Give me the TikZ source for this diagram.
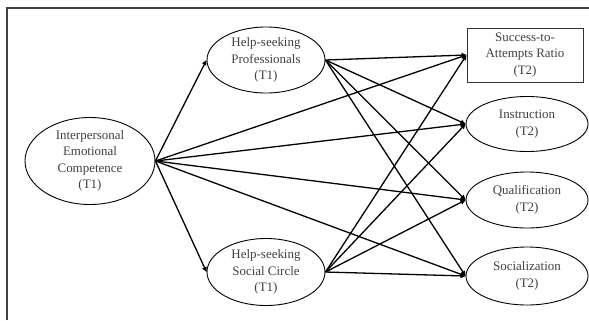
\documentclass[tikz,border=0pt]{standalone}
\usepackage{fontspec}
\setmainfont{Liberation Serif}
\usetikzlibrary{shapes.geometric,arrows.meta}
\begin{document}
\begin{tikzpicture}[x=1bp,y=-1bp,
  lat/.style={ellipse,draw=black,line width=0.9bp,inner sep=0pt,align=center,
     font=\fontsize{13}{16.5}\selectfont,text=black!75},
  obs/.style={rectangle,draw=black!80,line width=0.9bp,inner sep=0pt,align=center,
     font=\fontsize{13}{16.5}\selectfont,text=black!75},
  path/.style={line width=1.3bp,-{Triangle[length=5bp,width=4.5bp]}}]
\useasboundingbox (0,0) rectangle (589,320);
\draw[black!75,line width=1.6bp] (7,320) -- (7,8) -- (589,8);
\node[lat,minimum width=130bp,minimum height=87bp] (iec) at (90,161)
  {Interpersonal\\Emotional\\Competence\\(T1)};
\node[lat,minimum width=118bp,minimum height=66bp] (hsp) at (266,60)
  {Help-seeking\\Professionals\\(T1)};
\node[lat,minimum width=118bp,minimum height=67bp] (hss) at (266,272)
  {Help-seeking\\Social Circle\\(T1)};
\node[obs,minimum width=116bp,minimum height=54bp] (sar) at (525,55)
  {Success-to-\\Attempts Ratio\\(T2)};
\node[lat,minimum width=122bp,minimum height=55bp] (ins) at (527,124)
  {Instruction\\(T2)};
\node[lat,minimum width=122bp,minimum height=56bp] (qua) at (527,200)
  {Qualification\\(T2)};
\node[lat,minimum width=122bp,minimum height=58bp] (soc) at (527,276)
  {Socialization\\(T2)};
\foreach \t in {hsp,hss,sar,ins,qua,soc}
  \draw[path] (iec.east) -- (\t.west);
\foreach \s in {hsp,hss}
  \foreach \t in {sar,ins,qua,soc}
    \draw[path] (\s.east) -- (\t.west);
\end{tikzpicture}
\end{document}
